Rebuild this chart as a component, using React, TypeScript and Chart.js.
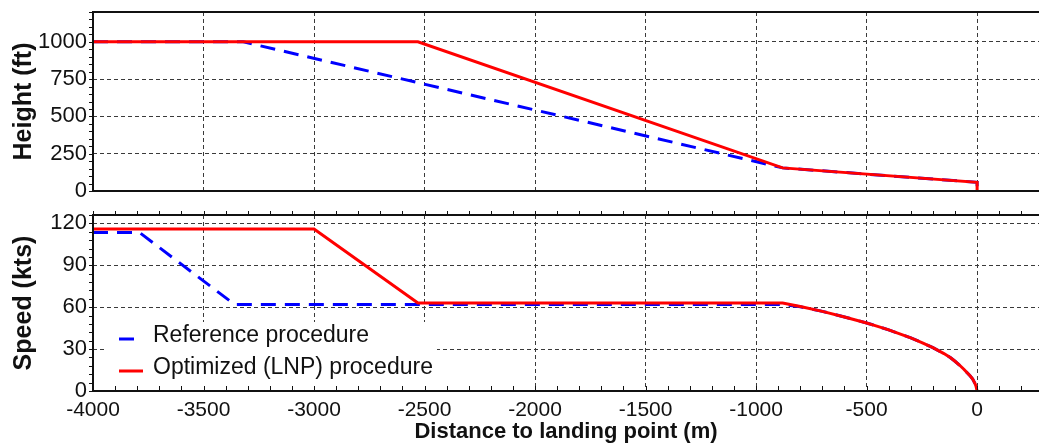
import React, { useEffect, useRef } from 'react';
import { Chart, registerables } from 'chart.js';

Chart.register(...registerables);

// ---------- data ----------
const X_MIN = -4000;
const X_MAX = 280;
const X_TICKS = [-4000, -3500, -3000, -2500, -2000, -1500, -1000, -500, 0];
const HEIGHT_TICKS = [0, 250, 500, 750, 1000];
const SPEED_TICKS = [0, 30, 60, 90, 120];
const HEIGHT_MAX = 1200;
const SPEED_MAX = 126;
const X_MINOR_STEP = 100;
const HEIGHT_MINOR_STEP = 50;
const SPEED_MINOR_STEP = 6;

const HEIGHT_REF_X = [-4000, -3320, -880, 0, 0];
const HEIGHT_REF_FT = [1000, 1000, 155, 58, 0];
const HEIGHT_OPT_X = [-4000, -2530, -880, 0, 0];
const HEIGHT_OPT_FT = [1000, 1000, 155, 58, 0];

const SPEED_REF_X = [-4000, -3790, -3360, -880, -800, -700, -600, -500, -450, -400, -300, -250, -200, -150, -120, -100, -80, -60, -45, -30, -20, -10, -5, 0];
const SPEED_REF_KTS = [113.5, 113.5, 62, 62, 60.3, 57, 53, 48.7, 46.3, 43.8, 38, 34.7, 31, 26.8, 23.8, 21.3, 18.6, 15.6, 13, 10.5, 8.5, 5.5, 3.5, 0];
const SPEED_OPT_X = [-4000, -3000, -2530, -880, -800, -700, -600, -500, -450, -400, -300, -250, -200, -150, -120, -100, -80, -60, -45, -30, -20, -10, -5, 0];
const SPEED_OPT_KTS = [116, 116, 63, 63, 60.5, 57, 53, 48.7, 46.3, 43.8, 38, 34.7, 31, 26.8, 23.8, 21.3, 18.6, 15.6, 13, 10.5, 8.5, 5.5, 3.5, 0];

const REF_LABEL = 'Reference procedure';
const OPT_LABEL = 'Optimized (LNP) procedure';

const FONT = '"Liberation Sans", Arial, Helvetica, sans-serif';
const BLUE = '#0000ff';
const RED = '#ff0000';
const GRID = '#3a3a3a';

const toPoints = (xs: number[], ys: number[]) => xs.map((x, i) => ({ x, y: ys[i] }));

// ---------- plugins ----------
const framePlugin = {
  id: 'frameTicks',
  afterDraw(chart: any, _args: any, opts: any) {
    const { ctx, chartArea: a, scales } = chart;
    const right = chart.width;
    ctx.save();
    ctx.strokeStyle = '#111';
    ctx.lineWidth = 1;
    ctx.beginPath();
    const ys = scales.y;
    for (let v = ys.min; v <= ys.max + 1e-9; v += opts.yStep) {
      const p = Math.round(ys.getPixelForValue(v)) + 0.5;
      ctx.moveTo(a.left - 4, p);
      ctx.lineTo(a.left, p);
    }
    const xs = scales.x;
    const start = Math.ceil(xs.min / opts.xStep) * opts.xStep;
    for (let v = start; v <= xs.max + 1e-9; v += opts.xStep) {
      const p = Math.round(xs.getPixelForValue(v)) + 0.5;
      if (opts.xBottom) {
        ctx.moveTo(p, a.bottom);
        ctx.lineTo(p, a.bottom - 5);
      }
      if (opts.xTop) {
        ctx.moveTo(p, a.top);
        ctx.lineTo(p, a.top - 4);
      }
    }
    ctx.stroke();
    ctx.strokeStyle = '#111';
    ctx.lineWidth = 2;
    ctx.beginPath();
    ctx.moveTo(right, a.top);
    ctx.lineTo(a.left, a.top);
    ctx.lineTo(a.left, a.bottom);
    ctx.lineTo(right, a.bottom);
    ctx.stroke();
    ctx.restore();
  },
};

const insideLegendPlugin = {
  id: 'insideLegend',
  afterDatasetsDraw(chart: any, _args: any, opts: any) {
    if (!opts || !opts.enabled) return;
    const { ctx, chartArea: a } = chart;
    const boxL = a.left + 14;
    const boxR = a.left + 344;
    const boxB = a.bottom - 1;
    const boxT = a.bottom - 69;
    ctx.save();
    ctx.fillStyle = '#ffffff';
    ctx.fillRect(boxL, boxT, boxR - boxL, boxB - boxT);
    const items = [
      { label: REF_LABEL, color: BLUE, dash: [15, 9] },
      { label: OPT_LABEL, color: RED, dash: [] as number[] },
    ];
    ctx.font = `23px ${FONT}`;
    ctx.textBaseline = 'alphabetic';
    ctx.textAlign = 'left';
    items.forEach((it, i) => {
      const cy = boxT + 17 + i * 32;
      ctx.strokeStyle = it.color;
      ctx.lineWidth = 3;
      ctx.setLineDash(it.dash);
      ctx.beginPath();
      ctx.moveTo(boxL + 12, cy);
      ctx.lineTo(boxL + 36, cy);
      ctx.stroke();
      ctx.setLineDash([]);
      ctx.fillStyle = '#111';
      ctx.fillText(it.label, boxL + 46, cy + 3);
    });
    ctx.restore();
  },
};

// ---------- chart factory ----------
function makeConfig(kind: 'height' | 'speed'): any {
  const isH = kind === 'height';
  const refData = isH ? toPoints(HEIGHT_REF_X, HEIGHT_REF_FT) : toPoints(SPEED_REF_X, SPEED_REF_KTS);
  const optData = isH ? toPoints(HEIGHT_OPT_X, HEIGHT_OPT_FT) : toPoints(SPEED_OPT_X, SPEED_OPT_KTS);
  const yTicks = isH ? HEIGHT_TICKS : SPEED_TICKS;
  return {
    type: 'line',
    data: {
      datasets: [
        {
          label: OPT_LABEL,
          data: optData,
          borderColor: RED,
          backgroundColor: RED,
          borderWidth: 3,
          pointRadius: 0,
          tension: 0,
          fill: false,
          order: 1,
        },
        {
          label: REF_LABEL,
          data: refData,
          borderColor: BLUE,
          backgroundColor: BLUE,
          borderWidth: 3,
          borderDash: [15, 9],
          pointRadius: 0,
          tension: 0,
          fill: false,
          order: 2,
        },
      ],
    },
    options: {
      animation: false,
      responsive: false,
      devicePixelRatio: 1,
      layout: { padding: isH ? { top: 12, bottom: 9, left: 0, right: 0 } : { top: 15, bottom: 0, left: 0, right: 0 } },
      plugins: {
        legend: { display: false },
        tooltip: { enabled: false },
        frameTicks: { yStep: isH ? HEIGHT_MINOR_STEP : SPEED_MINOR_STEP, xStep: X_MINOR_STEP, xBottom: !isH, xTop: !isH },
        insideLegend: { enabled: !isH },
      },
      scales: {
        x: {
          type: 'linear',
          min: X_MIN,
          max: X_MAX,
          afterBuildTicks: (s: any) => {
            s.ticks = X_TICKS.map((v) => ({ value: v }));
          },
          afterFit: (s: any) => {
            s.height = isH ? 0 : 57;
            s.paddingLeft = 0;
            s.paddingRight = 0;
            s.paddingTop = 0;
            s.paddingBottom = 0;
          },
          grid: { color: GRID, lineWidth: 1, drawTicks: false },
          border: { display: false, dash: [4, 3] },
          ticks: {
            display: !isH,
            autoSkip: false,
            maxRotation: 0,
            padding: 7,
            color: '#111',
            font: { family: FONT, size: 21 },
            callback: (v: any) => String(v),
          },
          title: {
            display: !isH,
            text: 'Distance to landing point (m)',
            color: '#111',
            font: { family: FONT, size: 22, weight: 'bold' },
            padding: { top: 0, bottom: 3 },
          },
        },
        y: {
          type: 'linear',
          min: 0,
          max: isH ? HEIGHT_MAX : SPEED_MAX,
          afterBuildTicks: (s: any) => {
            s.ticks = yTicks.map((v) => ({ value: v }));
          },
          afterFit: (s: any) => {
            s.width = 93;
            s.paddingLeft = 0;
            s.paddingRight = 0;
            s.paddingTop = 0;
            s.paddingBottom = 0;
          },
          grid: { color: GRID, lineWidth: 1, drawTicks: false },
          border: { display: false, dash: [4, 3] },
          ticks: {
            autoSkip: false,
            padding: 6,
            color: '#111',
            font: { family: FONT, size: 22 },
            callback: (v: any) => String(v),
          },
          title: {
            display: true,
            text: isH ? 'Height (ft)' : 'Speed (kts)',
            color: '#111',
            font: { family: FONT, size: 25, weight: 'bold' },
            padding: { top: 9, bottom: 0 },
          },
        },
      },
    },
    plugins: [framePlugin, insideLegendPlugin],
  };
}

function LineCanvas({ kind, height }: { kind: 'height' | 'speed'; height: number }) {
  const ref = useRef<HTMLCanvasElement | null>(null);
  useEffect(() => {
    if (!ref.current) return;
    const chart = new Chart(ref.current, makeConfig(kind));
    return () => chart.destroy();
  }, [kind]);
  return <canvas ref={ref} width={1039} height={height} style={{ display: 'block', width: 1039, height }} />;
}

export default function App() {
  return (
    <div style={{ position: 'absolute', left: 0, top: 0, width: 1039, height: 448, background: '#fff', overflow: 'hidden' }}>
      <LineCanvas kind="height" height={200} />
      <LineCanvas kind="speed" height={248} />
    </div>
  );
}
